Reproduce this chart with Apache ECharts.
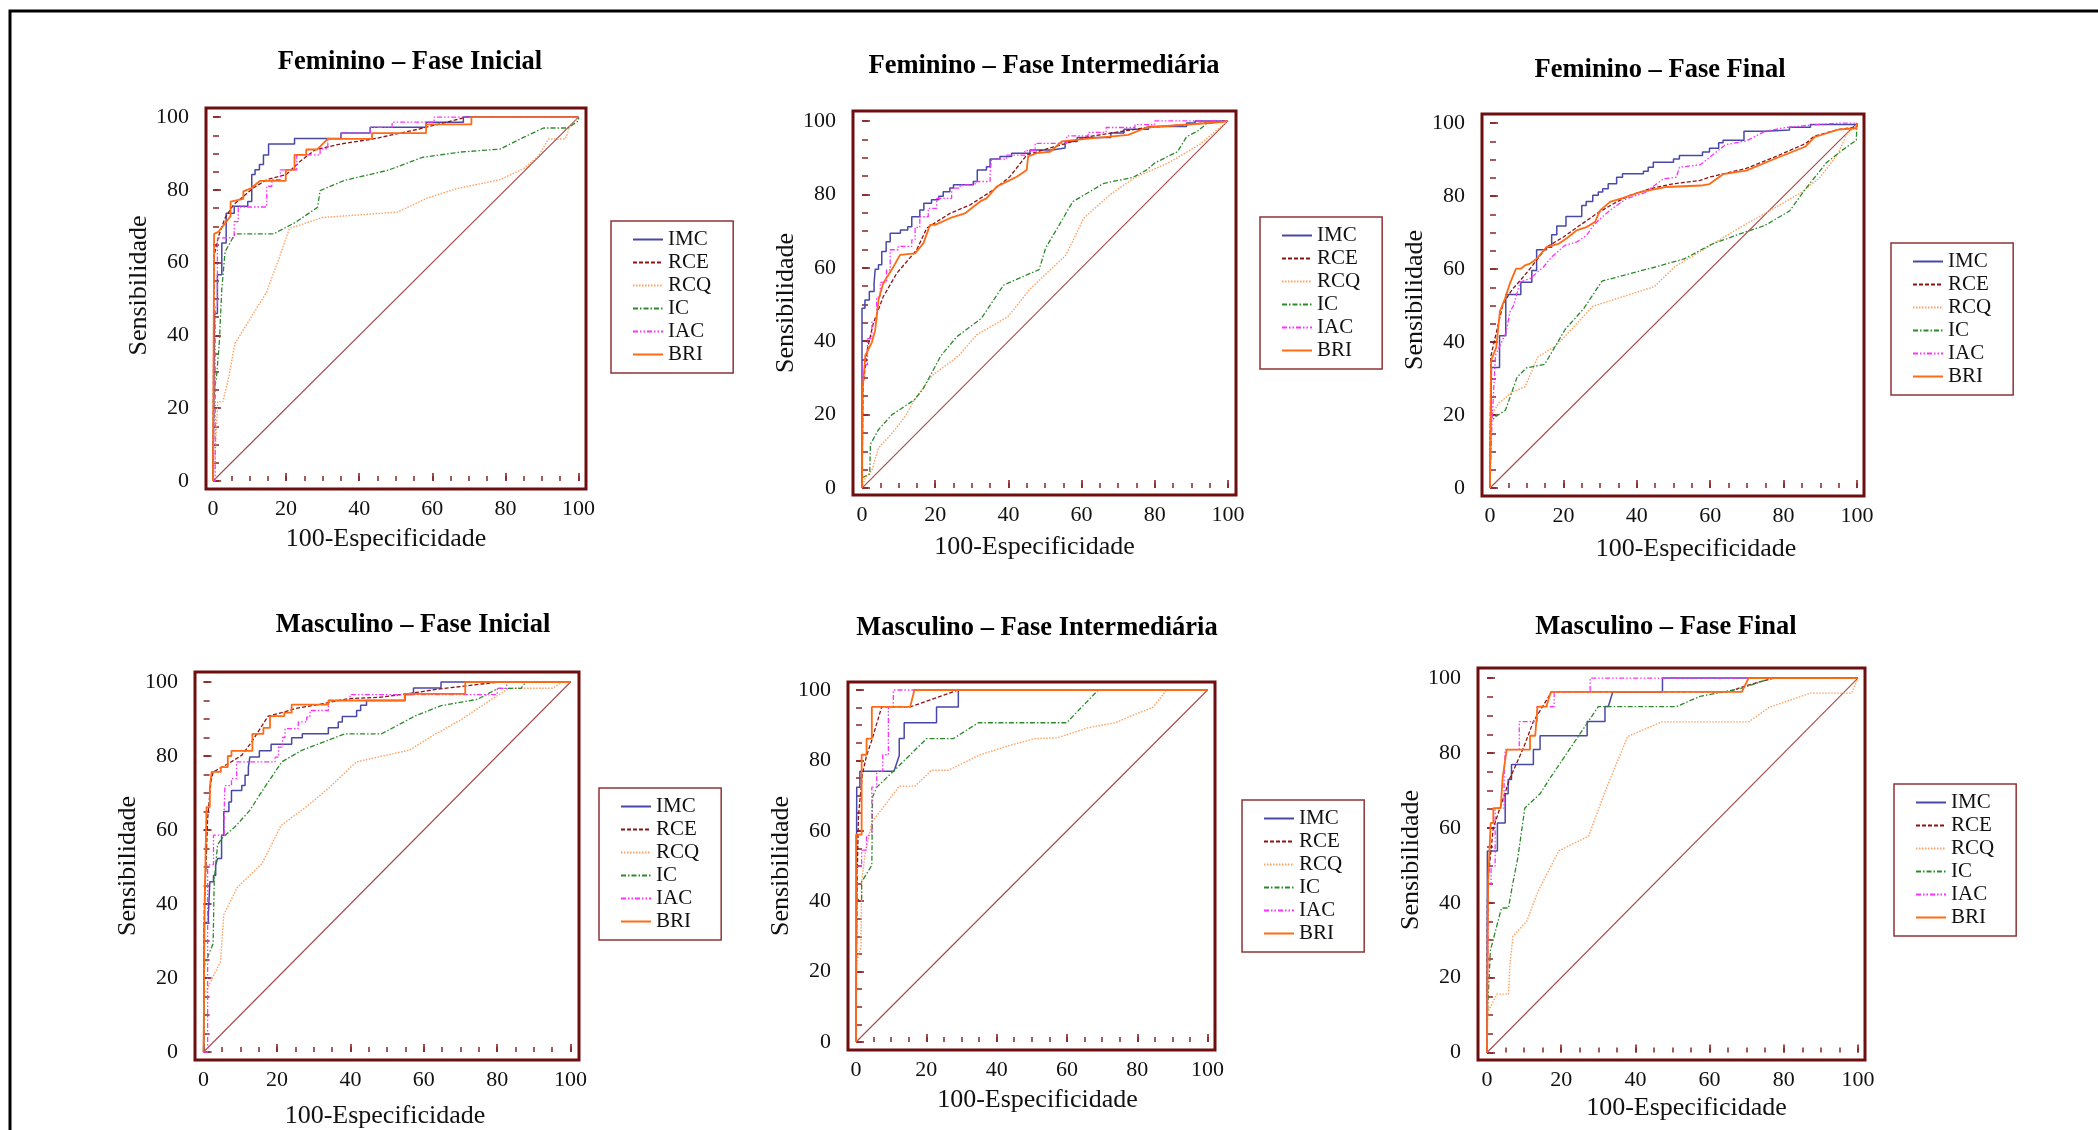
<!DOCTYPE html>
<html><head><meta charset="utf-8">
<script src="https://cdn.jsdelivr.net/npm/echarts@6/dist/echarts.min.js"></script>
<style>html,body{margin:0;padding:0;background:#fff;overflow:hidden}#c{width:2098px;height:1130px}</style>
</head><body><div id="c"></div>
<script>
// ---------- labels ----------
const seriesNames = ['IMC','RCE','RCQ','IC','IAC','BRI'];
const panelTitles = ['Feminino – Fase Inicial','Feminino – Fase Intermediária','Feminino – Fase Final',
                     'Masculino – Fase Inicial','Masculino – Fase Intermediária','Masculino – Fase Final'];
const xAxisName = '100-Especificidade';
const yAxisName = 'Sensibilidade';
const tickLabels = [0,20,40,60,80,100];
const tickMarks = [0,5,10,15,20,25,30,35,40,45,50,55,60,65,70,75,80,85,90,95,100];
const diagonal = [[0,0],[100,100]];

// ---------- Feminino – Fase Inicial ----------
const FI_IMC = [[0,0],[0.4,46],[1.2,56.7],[2.4,65.4],[3.6,73.6],[5.8,75.5],[9.5,76.8],[10.6,84.2],[11.5,85.5],[12.7,87],[13.8,89.6],[15.2,92.6],[22.3,94.1],[35,95.6],[43,97.2],[58.3,98.6],[68.5,100],[100,100]];
const FI_RCE = [[0,0],[0.3,62],[1.5,67.2],[3.3,72.3],[5.6,75.9],[8.3,78.2],[11,80.5],[14.7,82.8],[20,84.2],[23.8,87.8],[27.9,91],[34.8,92.6],[43.9,94],[56.7,96.8],[69.4,100],[100,100]];
const FI_RCQ = [[0,0],[0.5,5.6],[1.3,21.8],[2.7,21.8],[4.3,28.5],[6,37.8],[14.6,51.8],[18,61],[20.9,69.4],[29.9,72.4],[50.5,73.9],[58.5,77.7],[66.5,80.3],[78.5,82.8],[85.1,85.9],[89.1,89.4],[91.8,94],[96.4,94],[97.7,97.6],[100,100]];
const FI_IC  = [[0,0],[0.3,25],[0.9,28],[1.7,37.6],[2.4,52.8],[3.3,63],[6,67.9],[16.6,67.9],[22.6,71.1],[28.6,75.2],[29.3,79.8],[35.9,82.6],[47.9,85.4],[57.2,88.9],[67.8,90.4],[78.5,91.2],[85.1,94.5],[90.4,97],[97.1,97],[100,99],[100,100]];
const FI_IAC = [[0,0],[0.6,47.8],[1.2,66.8],[5.8,71.3],[6.9,75.3],[14.7,81],[16.1,82.8],[18.4,85.5],[22.9,89.6],[29.3,91.3],[31.4,94],[35,95.6],[43,97.2],[49,98.6],[60.5,100],[100,100]];
const FI_BRI = [[0,0],[0.3,0],[0.3,67.9],[1.5,68.5],[4.8,72.8],[4.8,76.8],[8.3,77.5],[8.3,79.6],[10.5,80.5],[12.9,82.5],[19.9,82.5],[19.9,85.5],[22.3,85.5],[22.3,89.6],[25.5,89.6],[25.5,91.1],[28.5,91.1],[31.4,94],[43.5,94],[43.5,95.6],[58.3,95.6],[58.3,98],[70.7,98],[70.7,100],[100,100]];

// ---------- Feminino – Fase Intermediária ----------
const FM_IMC = [[0,0],[0,49],[0.8,51.2],[2,53.5],[3.3,55.8],[3.6,59.6],[4.5,60.8],[5.4,64.4],[6.6,67.1],[7.7,69.4],[10.5,70.3],[12.5,71.2],[13.6,73.9],[15.8,75.7],[16.9,77.6],[19,78.5],[21,79.5],[22.2,80.7],[24,81.7],[25,82.6],[30.4,83.5],[31.5,86.6],[34,87.5],[35,89.6],[37.7,90.3],[40.9,91.2],[45.9,92.1],[52,92.6],[55.5,94.4],[58.8,95.5],[68,96.7],[71.6,97.7],[78.3,98.5],[88.7,99.4],[91,100],[100,100]];
const FM_RCE = [[0,0],[0.3,28],[1.5,38],[3.1,44.9],[5.8,52.1],[9.5,58.5],[14.9,64.8],[17.7,70.8],[24,74.8],[29.5,77.1],[35.9,81.2],[40.4,84.8],[45,90.7],[49.5,92.1],[55.9,93.9],[61.8,95.7],[77.7,98.2],[91,99.2],[100,100]];
const FM_RCQ = [[0,0],[0.9,2.8],[2.7,4.8],[4.5,10.9],[8.2,14.9],[11.8,19.5],[14.3,24],[19.1,30.6],[26.5,36.1],[31.3,41.7],[39.9,46.7],[46,54.3],[55.7,63.4],[60.6,73.5],[67.9,80],[74.6,84.6],[83.8,88.6],[92.3,93.6],[100,100]];
const FM_IC  = [[0,0],[0,2.8],[2.1,3.8],[2.3,11.9],[4.5,15.9],[8.2,20],[14.3,24],[16.7,27],[21.6,36.1],[25.9,41.2],[32.6,46.2],[38.7,55.3],[48.4,59.5],[50.2,65.4],[57.6,78],[66.1,83],[74,84.6],[77.7,86.6],[80.1,88.6],[86.2,91.6],[88.7,95.7],[91.7,97.2],[94.1,99.2],[100,100]];
const FM_IAC = [[0,0],[0,33.6],[1.5,40.7],[2.7,45.2],[4,52],[5,56],[6.7,59.4],[7.7,64.9],[9.9,65.8],[13.6,67.6],[14.5,71],[15.8,73.9],[18.1,76.2],[20.4,78.9],[24.5,81.7],[26.8,82.6],[30.9,83.5],[35,85.7],[35.4,89.6],[39.5,90.7],[44.5,91.9],[47.3,93.9],[55.9,95.9],[61.8,96.9],[66.7,98.2],[74.6,99],[80,100],[100,100]];
const FM_BRI = [[0,0],[0.2,27],[0.9,36.1],[2.7,39.7],[3.6,43],[4.5,51.2],[5.8,55.8],[8.6,60.3],[10.4,63.5],[14.5,63.9],[16.8,66.7],[18.6,71.7],[20,71.7],[24,73.5],[28.1,74.8],[32.2,78],[34,78.9],[36.8,82.1],[42.3,84.8],[45,86.6],[45.4,90.3],[47.7,91.2],[51.4,91.6],[54.6,94.4],[61.8,95.2],[72.8,96.2],[77.7,98.2],[98.4,99.7],[100,100]];

// ---------- Feminino – Fase Final ----------
const FF_IMC = [[0,0],[0.4,33],[2.6,41.7],[4.3,53],[8.4,56.4],[11.4,59.6],[12.7,65.3],[15.4,66],[16.8,69.4],[18.2,71.8],[20.7,74.4],[25,77.4],[26.2,78.5],[28,80.2],[29.5,81.1],[30.7,82],[32.2,83.4],[34.5,85.2],[36.1,86.1],[41.8,86.8],[43.1,87.9],[44.5,89.3],[50,90.2],[51.6,91.1],[57.9,92.1],[59.8,93.1],[62.3,94.6],[63.5,95.3],[69.2,97.8],[74.8,98.1],[81.6,98.9],[87.3,99.6],[100,100]];
const FF_RCE = [[0,0],[0.2,36],[1.7,42.5],[3.6,50.6],[6.1,54.5],[8.2,56.8],[10.9,60.1],[15.4,66],[20,68.8],[24.5,72],[29.1,75.2],[33.6,77.9],[38.1,80.2],[43.6,82],[50,83.4],[57.2,84.3],[59.8,85.2],[69.8,87.6],[77.3,90.6],[86,94.4],[88.3,96.4],[94.8,98.2],[100,99],[100,100]];
const FF_RCQ = [[0,0],[0.2,15.2],[0.5,20.2],[2.4,23.3],[6.1,26.3],[9.6,27.8],[13,35.9],[18,39],[23.6,45],[28,49.8],[33.6,51.6],[44.8,55.2],[50.4,60.7],[57.3,64.8],[67.3,70.9],[76,75.9],[84.8,81],[89.8,85],[94.8,91.6],[97.3,97.2],[100,99.2],[100,100]];
const FF_IC  = [[0,0],[0.1,18.2],[1.7,19.7],[4.2,21.3],[7.4,30.4],[9.9,32.9],[14.9,33.9],[20.5,43.5],[25.5,49.1],[30.5,56.7],[39.8,59.2],[44.8,60.5],[52.9,62.8],[60.4,66.8],[68.5,69.8],[74.8,71.9],[81.6,75.9],[86,82],[91.6,89.1],[96,92.6],[99.8,95.3],[100,100]];
const FF_IAC = [[0,0],[0.5,17.2],[1.5,36.4],[4.4,42.7],[5.4,48.2],[6.4,50],[8.2,56.4],[10.9,57.4],[14.5,60.5],[16.8,63.3],[20.4,66.5],[23.6,67.4],[26.3,69.2],[28.2,72],[29.5,73.3],[32.7,76.1],[34.5,77.4],[37.2,79.3],[42.7,81.1],[43.6,82],[47.2,84.7],[50.8,85.2],[51.6,87.9],[57.3,88.6],[59.8,90.6],[64.2,94.1],[69.8,95.1],[74.8,97.7],[79.8,98.7],[86.6,99.4],[94.8,100],[100,100]];
const FF_BRI = [[0,0],[0.3,35],[1.7,38.5],[2.7,48.4],[4.1,51.9],[5.4,56],[7.1,60.1],[8.4,60.1],[9.5,61],[10.9,61.5],[12.7,62.8],[15.4,66],[18.6,66.9],[21,68.5],[23.6,70.6],[26.3,71.5],[28.6,72.9],[30,76.1],[32.7,78.4],[36.3,79.5],[40.9,81.1],[48.1,82.5],[57.5,82.9],[59.8,83.3],[63.5,86],[69.8,87],[77.3,90.1],[86,93.6],[88.5,96.2],[94.8,98.2],[99.8,98.6],[100,100]];

// ---------- Masculino – Fase Inicial ----------
const MI_IMC = [[0,0],[0.2,35],[1.3,37.1],[1.7,46],[2.7,47.7],[3.3,50.5],[3.8,52.3],[4.9,58.6],[5.5,65],[6.9,67.6],[7.6,70.7],[10.4,72],[11.3,74.8],[12.2,77],[12.6,79.7],[15.2,81.4],[18.4,83.2],[24,84.9],[26.9,86],[34,87.6],[36.7,89.2],[37.8,90.7],[41.7,92.3],[42.8,93.7],[44.4,95],[54.9,96.6],[57.2,98.4],[64.7,100],[100,100]];
const MI_RCE = [[0,0],[0.2,38],[1.1,63],[2,73],[2.6,75.7],[6.7,77.9],[10.4,80.2],[13.1,83.8],[17.6,90.8],[21.3,91.7],[24.9,92.8],[32.2,94.1],[39.4,95.5],[48.5,95.9],[57.6,97.1],[63.4,98],[80.6,100],[100,100]];
const MI_RCQ = [[0,0],[0.2,15.5],[4.6,24.4],[5.5,37.1],[9.2,44.5],[15.9,50.9],[21.1,61.2],[28.4,66.6],[34.3,71.5],[41.6,78.4],[56.1,81.6],[62.1,85.3],[70,89.7],[76.6,94.1],[83.2,98.3],[95.1,98.3],[97.8,100],[100,100]];
const MI_IC  = [[0,0],[0.2,23.4],[2.6,29.3],[2.9,46.5],[3.8,55.9],[4.9,57.7],[8.5,60.8],[12.6,65.3],[15.8,70.3],[21.3,78.4],[26.7,81.5],[38.5,86],[48.5,86],[57.6,90.8],[64.7,93.6],[74.6,95.3],[80.3,98.3],[86.5,98.3],[87.8,100],[100,100]];
const MI_IAC = [[0,0],[1.1,50.6],[2.7,58.6],[5.6,64.9],[5.8,72],[7.6,73.9],[9,78.4],[19.5,79.7],[20.4,82.4],[21.5,85],[22.2,87.4],[25.8,89.2],[28.1,90.5],[29,92.3],[34,95],[39.9,96.6],[80,98.3],[82.6,100],[100,100]];
const MI_BRI = [[0,0],[0.3,41.6],[0.8,66.2],[1.7,71.6],[2.2,75.7],[4.7,77],[6.6,80],[7.6,81.4],[13.3,86],[16.3,87.6],[18.1,90.8],[22,91.7],[24,93.9],[34,95],[54.8,96.8],[71.3,100],[100,100]];

// ---------- Masculino – Fase Intermediária ----------
const MM_IMC = [[0,0],[0.2,0],[0.2,72.4],[1.1,72.4],[1.1,76.9],[10.8,76.9],[12.3,81.4],[12.3,86.2],[13.7,86.2],[13.7,90.7],[22.9,90.7],[22.9,95.2],[29.1,95.2],[29.1,100],[100,100]];
const MM_RCE = [[0,0],[0.2,40],[0.7,64.4],[1.8,76],[3,81.4],[4.5,85.7],[7.3,95.2],[15.4,95.2],[29.1,100],[100,100]];
const MM_RCQ = [[0,0],[0.2,22.9],[1.4,27],[1.6,45.6],[2.7,54.4],[4.6,62.6],[9,68.3],[12.3,72.7],[16.8,72.7],[21.5,77.2],[26.3,77.2],[35.3,81.6],[43.8,84.3],[50.9,86.2],[57.2,86.4],[66.1,89.3],[73.7,90.7],[79.4,93.1],[84.5,95.1],[88.3,100],[100,100]];
const MM_IC  = [[0,0],[0.2,0],[0.2,40.5],[1.6,40.5],[1.6,45.5],[4.5,50.2],[4.7,69.6],[5.9,72.4],[10.6,76.9],[20.1,86.2],[27.7,86.2],[34.8,90.7],[59.9,90.7],[68.9,100],[100,100]];
const MM_IAC = [[0,0],[0.4,50],[1.6,54.5],[3,58.7],[4.5,72.4],[5.9,76.9],[7.6,81.6],[9.2,95.2],[10.6,100],[100,100]];
const MM_BRI = [[0,0],[0,58.9],[1.6,58.9],[1.6,81.6],[3,81.6],[3,86.2],[4.5,86.2],[4.5,95.2],[15.4,95.2],[16.6,100],[100,100]];

// ---------- Masculino – Fase Final ----------
const MF_IMC = [[0,0],[0.1,0],[0.1,53.8],[2.8,53.8],[2.8,61.3],[4.9,61.3],[4.9,69.1],[5.7,69.1],[5.7,72.9],[6.6,72.9],[6.6,76.9],[12.5,76.9],[12.5,80.9],[14.3,80.9],[14.3,84.6],[27,84.6],[27,88.4],[31.8,88.4],[31.8,92.4],[32.7,92.4],[33.9,96.3],[47.3,96.3],[47.3,100],[100,100]];
const MF_RCE = [[0,0],[0.1,40],[0.4,47.6],[1.7,60],[6.2,73.3],[9.8,81.3],[12.5,88.4],[17.4,96.3],[65,96.3],[69.9,98],[77.3,100],[100,100]];
const MF_RCQ = [[0,0],[0.2,10.8],[2.7,15.6],[5.8,15.6],[6.2,24],[7,31.1],[10.7,35],[13.8,43.2],[19.4,53.9],[27.4,57.8],[31.7,69.4],[37.9,84.4],[47.1,88.3],[70.5,88.3],[76.1,92.2],[87.2,96],[98.3,96],[100,100]];
const MF_IC  = [[0,0],[0.1,10],[0.9,27.2],[3.9,38.6],[5.8,38.6],[6.8,44.4],[8.3,52],[10.2,65.3],[14.3,69.1],[17,73.3],[27.3,88.4],[30,92.4],[51.1,92.4],[57.4,95.1],[68.7,97.3],[76.7,100],[100,100]];
const MF_IAC = [[0,0],[0.4,45],[1.1,49.8],[2.2,65.3],[4.6,73.3],[4.9,80.9],[8.7,88.4],[13.5,92.4],[18.1,96.3],[27.8,100],[100,100]];
const MF_BRI = [[0,0],[0.3,0],[0.3,45.8],[1,61.3],[1.7,61.3],[1.7,65.3],[3.7,65.3],[4.2,73.3],[5.3,80.9],[11.6,80.9],[11.6,84.6],[13,84.6],[13.6,92.4],[16,92.4],[17.2,96.3],[68.7,96.3],[70.5,100],[100,100]];

// which arrays are stored as step jump points (drawn with step:'end')
const panelData = [
  {IMC:[FI_IMC,true], RCE:[FI_RCE,false], RCQ:[FI_RCQ,false], IC:[FI_IC,false], IAC:[FI_IAC,true], BRI:[FI_BRI,false]},
  {IMC:[FM_IMC,true], RCE:[FM_RCE,false], RCQ:[FM_RCQ,false], IC:[FM_IC,false], IAC:[FM_IAC,true], BRI:[FM_BRI,false]},
  {IMC:[FF_IMC,true], RCE:[FF_RCE,false], RCQ:[FF_RCQ,false], IC:[FF_IC,false], IAC:[FF_IAC,false], BRI:[FF_BRI,false]},
  {IMC:[MI_IMC,true], RCE:[MI_RCE,false], RCQ:[MI_RCQ,false], IC:[MI_IC,false], IAC:[MI_IAC,true], BRI:[MI_BRI,true]},
  {IMC:[MM_IMC,false], RCE:[MM_RCE,false], RCQ:[MM_RCQ,false], IC:[MM_IC,false], IAC:[MM_IAC,true], BRI:[MM_BRI,false]},
  {IMC:[MF_IMC,false], RCE:[MF_RCE,false], RCQ:[MF_RCQ,false], IC:[MF_IC,false], IAC:[MF_IAC,true], BRI:[MF_BRI,false]}
];

// ---------- layout & style ----------
const layout = [
  {grid:{left:206,top:108,width:380,height:381}, x:[-1.92,102.05], y:[-2.2,102.5], xGap:37, yGap:50, xPad:[0,20,0,0], yPad:[0,0,0,26], title:[410,62.5], legend:[611,221]},
  {grid:{left:853,top:111,width:383,height:384}, x:[-2.46,102.2], y:[-1.9,102.7], xGap:39, yGap:51, xPad:[0,20,0,0], yPad:0, title:[1044,66.5], legend:[1260,217]},
  {grid:{left:1482,top:114,width:382,height:382}, x:[-2.18,101.9], y:[-2.19,102.5], xGap:40, yGap:43, xPad:[0,0,0,46], yPad:[0,0,0,10], title:[1660,70], legend:[1891,243]},
  {grid:{left:195,top:672,width:384,height:388}, x:[-2.34,102.3], y:[-2.16,102.7], xGap:43, yGap:45, xPad:[0,4,0,0], yPad:0, title:[413,625.5], legend:[599,788]},
  {grid:{left:848,top:682,width:367,height:368}, x:[-2.28,102.1], y:[-2.27,102.27], xGap:37, yGap:53, xPad:[0,0,0,12], yPad:0, title:[1037,628], legend:[1242,800]},
  {grid:{left:1478,top:668,width:387,height:392}, x:[-2.43,101.9], y:[-2.0,102.7], xGap:35.5, yGap:40, xPad:[0,0,0,30], yPad:[0,0,0,8], title:[1666,627], legend:[1894,784]}
];
const styles = {
  IMC:{color:'#4848a8', width:1.5, type:'solid'},
  RCE:{color:'#8b1515', width:1.3, type:[4,2]},
  RCQ:{color:'#ffa060', width:1.4, type:[1.5,1.5]},
  IC: {color:'#2c8a2c', width:1.3, type:[5,2,1.5,2]},
  IAC:{color:'#ff30ff', width:1.3, type:[5,2,1.5,2,1.5,2]},
  BRI:{color:'#ff6a14', width:1.8, type:'solid'}
};
const serif = '"Liberation Serif", "DejaVu Serif", serif';
const frameColor = '#6e0e0e';
const tickColor = '#8a2424';

const grid = [], xAxis = [], yAxis = [], series = [], legend = [], graphic = [];
graphic.push({type:'rect', silent:true, z:0, shape:{x:10, y:11, width:2300, height:1400}, style:{fill:'none', stroke:'#000', lineWidth:3}});

layout.forEach((L, i) => {
  grid.push(Object.assign({show:true, borderColor:frameColor, borderWidth:3, backgroundColor:'#fff', containLabel:false}, L.grid));
  xAxis.push({
    type:'value', gridIndex:i, min:L.x[0], max:L.x[1], position:'bottom',
    axisLine:{show:false},
    axisTick:{show:true, inside:true, length:5, customValues:tickMarks, lineStyle:{color:tickColor, width:1.5}},
    axisLabel:{customValues:tickLabels, margin:9, fontFamily:serif, fontSize:22, color:'#111'},
    splitLine:{show:false},
    name:xAxisName, nameLocation:'middle', nameGap:L.xGap,
    nameTextStyle:{fontFamily:serif, fontSize:26, color:'#111', padding:L.xPad}
  });
  yAxis.push({
    type:'value', gridIndex:i, min:L.y[0], max:L.y[1], position:'left',
    axisLine:{show:false},
    axisTick:{show:true, inside:true, length:6, customValues:tickMarks, lineStyle:{color:tickColor, width:1.5}},
    axisLabel:{customValues:tickLabels, margin:17, fontFamily:serif, fontSize:22, color:'#111'},
    splitLine:{show:false},
    name:yAxisName, nameLocation:'middle', nameGap:L.yGap,
    nameTextStyle:{fontFamily:serif, fontSize:26, color:'#111', padding:L.yPad}
  });
  series.push({type:'line', name:'', xAxisIndex:i, yAxisIndex:i, data:diagonal, symbol:'none', silent:true,
    lineStyle:{color:'#a84848', width:1.1}, z:2});
  seriesNames.forEach(n => {
    const [d, isStep] = panelData[i][n];
    series.push({type:'line', name:n, xAxisIndex:i, yAxisIndex:i, data:d, symbol:'none', showSymbol:false,
      step: isStep ? 'end' : false, silent:true,
      lineStyle:{color:styles[n].color, width:styles[n].width, type:styles[n].type},
      itemStyle:{color:styles[n].color}, z:3});
  });
  legend.push({
    left:L.legend[0], top:L.legend[1], orient:'vertical', data:seriesNames, selectedMode:false,
    itemWidth:30, itemHeight:12, itemGap:2, padding:[8,22,8,21],
    itemStyle:{opacity:0, borderWidth:0},
    borderColor:'#8e3434', borderWidth:1.5, backgroundColor:'#fff',
    textStyle:{fontFamily:serif, fontSize:21, color:'#111'}
  });
  graphic.push({type:'text', silent:true, x:L.title[0], y:L.title[1],
    style:{text:panelTitles[i], font:'bold 26.5px ' + serif, fill:'#000',
      align:'center', verticalAlign:'middle', textAlign:'center', textVerticalAlign:'middle'}});
});

// longer major ticks on extra (label-less) axes
layout.forEach((L, i) => {
  xAxis.push({type:'value', gridIndex:i, min:L.x[0], max:L.x[1], position:'bottom',
    axisLine:{show:false}, axisLabel:{show:false}, splitLine:{show:false},
    axisTick:{show:true, inside:true, length:8, customValues:tickLabels, lineStyle:{color:tickColor, width:1.6}}});
  yAxis.push({type:'value', gridIndex:i, min:L.y[0], max:L.y[1], position:'left',
    axisLine:{show:false}, axisLabel:{show:false}, splitLine:{show:false},
    axisTick:{show:true, inside:true, length:8, customValues:tickLabels, lineStyle:{color:tickColor, width:1.6}}});
});

const chart = echarts.init(document.getElementById('c'), null, {renderer:'canvas'});
chart.setOption({animation:false, backgroundColor:'#fff', grid, xAxis, yAxis, series, legend, graphic});
</script>
</body></html>
